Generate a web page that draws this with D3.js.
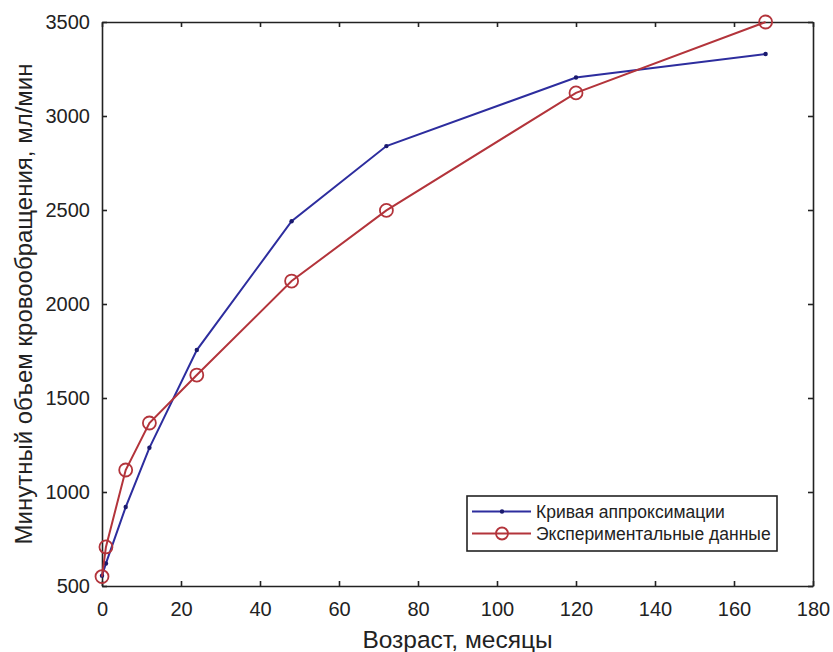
<!DOCTYPE html>
<html>
<head>
<meta charset="utf-8">
<script src="https://cdn.jsdelivr.net/npm/d3@7"></script>
<style>
  body { margin: 0; background: #fff; }
  text { font-family: "Liberation Sans", Arial, sans-serif; fill: #222; }
</style>
</head>
<body>
<div class="chart"></div>
<script>
// Ages in months and the two series (ml/min).
const ageMonths = [0, 1, 6, 12, 24, 48, 72, 120, 168];
const approxValues = [555, 620, 920, 1235, 1755, 2440, 2840, 3205, 3330];
const experimentValues = [550, 708, 1117, 1367, 1622, 2122, 2498, 3123, 3500];
const xTicks = [0, 20, 40, 60, 80, 100, 120, 140, 160, 180];
const yTicks = [500, 1000, 1500, 2000, 2500, 3000, 3500];
const seriesNames = ["Кривая аппроксимации", "Экспериментальные данные"];

const WIDTH = 833;
const HEIGHT = 652;
const MARGIN = { top: 22, right: 20, bottom: 66, left: 102 };
const TICK = 5;
const BLUE = "#2d2d9e";
const RED = "#b3343b";

const x = d3.scaleLinear().domain([0, 180]).range([MARGIN.left, WIDTH - MARGIN.right]);
const y = d3.scaleLinear().domain([500, 3500]).range([HEIGHT - MARGIN.bottom, MARGIN.top]);

const svg = d3
    .select(".chart")
    .append("svg")
    .attr("width", WIDTH)
    .attr("height", HEIGHT);

// Axes with inward ticks on all four sides (box style).
const axisBottom = svg
    .append("g")
    .attr("transform", "translate(0," + y.range()[0] + ")")
    .call(d3.axisBottom(x).tickValues(xTicks).tickFormat(d3.format("d"))
        .tickSizeInner(-TICK).tickSizeOuter(0).tickPadding(16));
const axisLeft = svg
    .append("g")
    .attr("transform", "translate(" + x.range()[0] + ",0)")
    .call(d3.axisLeft(y).tickValues(yTicks).tickFormat(d3.format("d"))
        .tickSizeInner(-TICK).tickSizeOuter(0).tickPadding(12));
svg.append("g")
    .attr("transform", "translate(0," + y.range()[1] + ")")
    .call(d3.axisTop(x).tickValues(xTicks).tickSizeInner(-TICK).tickSizeOuter(0).tickFormat(""));
svg.append("g")
    .attr("transform", "translate(" + x.range()[1] + ",0)")
    .call(d3.axisRight(y).tickValues(yTicks).tickSizeInner(-TICK).tickSizeOuter(0).tickFormat(""));

svg.selectAll(".domain, .tick line").attr("stroke", "#222").attr("stroke-width", 1.6);
svg.selectAll(".tick text").attr("font-size", 20).attr("fill", "#222");

// Axis titles.
svg.append("text")
    .attr("x", (x.range()[0] + x.range()[1]) / 2)
    .attr("y", 648)
    .attr("text-anchor", "middle")
    .attr("font-size", 24.5)
    .text("Возраст, месяцы");
svg.append("text")
    .attr("transform", "translate(32," + (y.range()[0] + y.range()[1]) / 2 + ") rotate(-90)")
    .attr("text-anchor", "middle")
    .attr("font-size", 24)
    .text("Минутный объем кровообращения, мл/мин");

const line = (values) =>
    d3.line().x((d, i) => x(ageMonths[i])).y((d) => y(d))(values);

// Approximation curve with small dot markers.
svg.append("path")
    .attr("d", line(approxValues))
    .attr("fill", "none")
    .attr("stroke", BLUE)
    .attr("stroke-width", 2);
svg.append("g")
    .selectAll("circle")
    .data(approxValues)
    .join("circle")
    .attr("cx", (d, i) => x(ageMonths[i]))
    .attr("cy", (d) => y(d))
    .attr("r", 2.2)
    .attr("fill", "#1a1a6e");

// Experimental data with open circles.
svg.append("path")
    .attr("d", line(experimentValues))
    .attr("fill", "none")
    .attr("stroke", RED)
    .attr("stroke-width", 2);
svg.append("g")
    .selectAll("circle")
    .data(experimentValues)
    .join("circle")
    .attr("cx", (d, i) => x(ageMonths[i]))
    .attr("cy", (d) => y(d))
    .attr("r", 6.5)
    .attr("fill", "none")
    .attr("stroke", RED)
    .attr("stroke-width", 1.8);

// Legend.
const legend = svg.append("g").attr("transform", "translate(467,496)");
legend.append("rect")
    .attr("width", 310)
    .attr("height", 55)
    .attr("fill", "#fff")
    .attr("stroke", "#222")
    .attr("stroke-width", 1.6);
seriesNames.forEach((name, i) => {
    const row = legend.append("g").attr("transform", "translate(0," + (15.5 + i * 22) + ")");
    const color = i === 0 ? BLUE : RED;
    row.append("line")
        .attr("x1", 5)
        .attr("x2", 64)
        .attr("stroke", color)
        .attr("stroke-width", 2);
    if (i === 0) {
        row.append("circle").attr("cx", 35).attr("r", 2.2).attr("fill", "#1a1a6e");
    } else {
        row.append("circle")
            .attr("cx", 35)
            .attr("r", 6)
            .attr("fill", "none")
            .attr("stroke", RED)
            .attr("stroke-width", 1.8);
    }
    row.append("text")
        .attr("x", 69)
        .attr("dy", "0.35em")
        .attr("font-size", 17.5)
        .text(name);
});
</script>
</body>
</html>
